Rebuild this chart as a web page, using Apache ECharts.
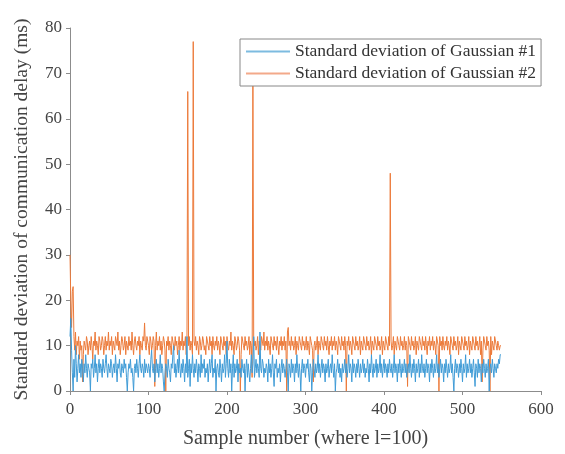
<!DOCTYPE html>
<html>
<head>
<meta charset="utf-8">
<script src="https://cdn.jsdelivr.net/npm/echarts@6/dist/echarts.min.js"></script>
<style>
  html, body { margin: 0; padding: 0; background: #fff; }
  #main { width: 565px; height: 454px; }
</style>
</head>
<body>
<div id="main"></div>
<script>
// std dev of Gaussian #1 (blue), one value per sample
var gauss1 = [
  12,16,9,4,0,7,3,10,6,2,5,8,4,6,3,7,5,2,6,4,8,5,3,6,5,
  4,0,6,5,7,3,5,8,4,6,2,5,7,4,6,5,3,7,5,4,6,8,5,3,6,
  5,4,7,6,3,5,6,4,8,5,2,6,5,7,4,3,6,5,4,7,5,6,3,0,4,
  6,5,7,4,5,3,0,5,6,4,7,5,3,6,8,5,4,6,5,3,7,4,6,5,4,
  6,5,3,7,9,5,4,6,2,5,7,4,6,3,5,8,4,6,5,2,0,4,6,5,3,
  7,5,4,2,6,5,8,10,4,6,3,5,7,4,9,5,3,6,4,7,5,2,6,4,12,
  3,5,7,1,6,4,8,5,3,6,4,7,5,2,6,5,3,8,4,6,5,7,3,5,4,
  6,2,5,7,4,6,8,3,5,4,7,0,5,6,4,3,7,5,2,6,4,5,8,3,6,
  11,5,3,7,4,6,0,5,8,3,6,4,5,7,2,6,4,5,3,7,5,4,6,0,5,
  7,3,6,4,2,5,8,4,6,12,3,5,7,4,6,5,3,13,5,4,7,6,3,5,4,
  6,5,2,7,4,6,3,5,8,4,1,6,5,7,3,5,4,6,2,5,7,4,6,5,3,
  5,7,4,0,6,5,3,7,4,6,5,2,6,4,8,5,3,6,4,0,5,7,4,6,5,
  3,6,5,7,4,2,6,5,0,4,7,5,3,6,4,5,8,4,6,3,5,7,4,6,5,
  2,6,4,5,7,3,5,6,4,8,5,3,6,0,4,5,7,4,6,3,5,2,6,4,5,
  7,4,6,3,5,8,4,6,5,2,7,4,6,5,3,6,4,7,5,3,6,4,5,7,4,
  6,3,5,4,7,5,2,6,4,8,5,3,6,4,5,7,3,6,4,5,8,4,6,3,5,
  7,4,6,5,3,6,4,7,5,4,6,3,5,8,4,6,5,2,6,4,7,5,3,6,4,
  5,7,4,6,3,5,6,4,8,5,3,6,4,7,5,2,6,4,5,7,3,6,4,8,5,
  4,6,3,5,7,4,6,5,2,6,4,7,5,3,6,4,5,8,4,6,3,5,7,4,6,
  5,2,6,4,7,5,3,6,4,5,8,4,6,3,0,5,7,4,6,5,3,6,4,7,5,
  2,6,4,5,8,3,6,4,5,7,4,6,3,5,7,4,1,6,5,3,7,4,6,5,2,
  6,4,7,5,3,6,4,5,7,0,5,6,4,7,5,3,6,5,4,6,5,7,6,8,8
];
// std dev of Gaussian #2 (orange)
var gauss2 = [
  30,20,14,22,23,12,9,13,8,11,10,12,7,11,9,10,2,8,11,10,9,12,11,8,10,
  11,9,12,10,7,11,10,13,9,11,10,8,12,11,9,10,12,11,8,10,12,9,11,10,13,
  9,11,10,12,8,11,10,9,12,11,10,13,9,11,8,10,12,11,9,10,12,8,11,10,9,
  12,10,11,9,13,10,8,11,12,10,9,11,10,12,8,11,10,9,12,11,15,10,9,12,11,
  10,8,12,11,9,10,12,11,1,10,13,9,11,10,12,9,11,8,10,12,11,9,0,11,10,
  12,9,11,10,8,12,11,10,9,12,10,11,8,10,12,9,11,10,13,9,11,10,12,8,11,
  66,10,12,9,11,10,8,77,11,10,12,9,11,10,8,12,11,9,10,12,11,9,10,8,12,
  11,10,9,12,10,11,8,12,10,9,11,10,12,9,11,10,8,12,11,10,9,12,10,11,8,
  12,10,9,11,10,13,9,11,10,8,12,11,9,10,12,11,9,0,8,12,11,10,9,12,10,
  11,9,10,12,8,11,10,3,70,12,10,11,9,10,12,8,11,10,9,12,11,10,13,9,11,
  10,12,9,11,10,8,12,11,10,9,12,10,11,9,12,10,8,11,10,12,9,11,10,12,9,
  11,0,13,14,10,11,9,12,10,11,9,10,12,8,11,10,9,12,11,10,9,12,10,11,9,
  10,12,9,11,10,8,12,11,10,9,2,10,11,9,10,12,8,11,10,9,12,11,10,9,12,
  10,11,9,12,10,8,11,10,12,9,11,10,12,9,11,10,8,12,11,10,9,12,10,11,9,
  12,10,0,11,10,12,9,11,10,8,12,11,10,9,12,10,11,9,10,12,8,11,10,9,12,
  11,10,9,12,10,11,9,10,12,8,11,10,9,12,11,10,9,12,10,11,9,10,12,8,11,
  10,9,12,11,10,9,12,10,48,11,9,10,12,8,11,10,9,12,11,10,9,12,10,11,9,
  10,12,9,11,10,1,12,11,10,9,12,10,11,9,10,12,8,11,10,9,12,11,10,9,12,
  10,11,9,12,10,8,11,10,12,9,11,10,12,9,11,10,8,12,11,10,0,12,10,11,9,
  12,10,9,11,10,12,9,11,10,8,12,11,10,9,12,10,11,9,10,12,8,11,10,9,12,
  11,10,9,12,10,11,9,10,12,8,11,10,9,12,11,10,9,12,10,11,9,10,12,8,11,
  2,9,12,11,10,9,12,10,11,9,0,12,8,11,10,9,12,11,10,9,11,10,9,10,10
];
var seriesNames = ['Standard deviation of Gaussian #1', 'Standard deviation of Gaussian #2'];
var xTicks = [0, 100, 200, 300, 400, 500, 600];
var yTicks = [0, 10, 20, 30, 40, 50, 60, 70, 80];

var toPairs = function (arr) {
  return arr.map(function (v, i) { return [i, v]; });
};

var serif = '"Liberation Serif", "Times New Roman", serif';
var axisGray = '#8c8c8c';
var blue = '#3f9bd6';
var orange = '#ec7a3a';

var myChart = echarts.init(document.getElementById('main'), null, { renderer: 'canvas' });
myChart.setOption({
  animation: false,
  backgroundColor: '#fff',
  grid: { left: 70, right: 24, top: 28, bottom: 63 },
  legend: {
    orient: 'vertical',
    left: 240,
    top: 39,
    padding: [3, 5, 3, 6],
    itemGap: 3,
    itemWidth: 44,
    itemHeight: 2,
    borderColor: '#888',
    borderWidth: 1,
    backgroundColor: '#fff',
    textStyle: { fontFamily: serif, fontSize: 17.5, color: '#333', lineHeight: 19 },
    data: [
      { name: seriesNames[0], icon: 'rect', itemStyle: { color: '#7dbbe0' } },
      { name: seriesNames[1], icon: 'rect', itemStyle: { color: '#f3a98a' } }
    ]
  },
  xAxis: {
    type: 'value',
    min: xTicks[0],
    max: xTicks[xTicks.length - 1],
    interval: 100,
    name: 'Sample number (where l=100)',
    nameLocation: 'middle',
    nameGap: 38,
    nameTextStyle: { fontFamily: serif, fontSize: 20, color: '#444' },
    axisLine: { lineStyle: { color: axisGray } },
    axisTick: { show: true, length: 4, lineStyle: { color: axisGray } },
    axisLabel: { fontFamily: serif, fontSize: 17, color: '#444', margin: 10 },
    splitLine: { show: false }
  },
  yAxis: {
    type: 'value',
    min: yTicks[0],
    max: yTicks[yTicks.length - 1],
    interval: 10,
    name: 'Standard deviation of communication delay (ms)',
    nameLocation: 'middle',
    nameGap: 38,
    nameTextStyle: { fontFamily: serif, fontSize: 19.5, color: '#444' },
    axisLine: { show: true, lineStyle: { color: axisGray } },
    axisTick: { show: true, length: 4, lineStyle: { color: axisGray } },
    axisLabel: { fontFamily: serif, fontSize: 17, color: '#444', margin: 8 },
    splitLine: { show: false }
  },
  series: [
    {
      name: seriesNames[0],
      type: 'line',
      symbol: 'none',
      data: toPairs(gauss1),
      lineStyle: { color: blue, width: 1 },
      itemStyle: { color: blue },
      z: 3
    },
    {
      name: seriesNames[1],
      type: 'line',
      symbol: 'none',
      data: toPairs(gauss2),
      lineStyle: { color: orange, width: 1 },
      itemStyle: { color: orange },
      z: 2
    }
  ]
});
</script>
</body>
</html>
